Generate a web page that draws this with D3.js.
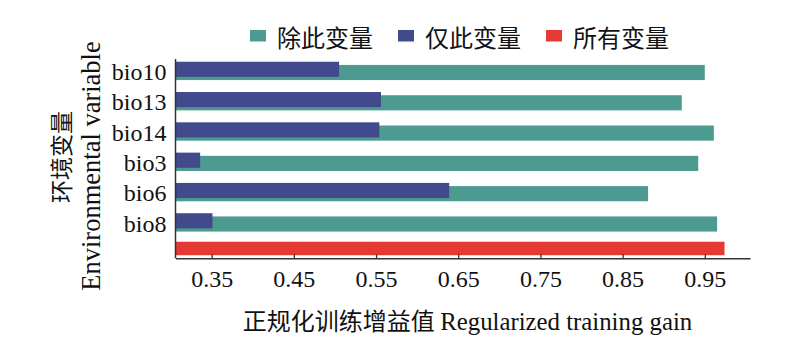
<!DOCTYPE html>
<html><head><meta charset="utf-8">
<script src="https://cdn.jsdelivr.net/npm/d3@7"></script>
<style>body{margin:0;background:#fff}svg{display:block}</style>
</head><body><svg id="c" width="800" height="357"></svg>
<script>
const categories = ["bio10","bio13","bio14","bio3","bio6","bio8"];
const withoutVar = [0.950, 0.922, 0.961, 0.942, 0.881, 0.965];
const onlyVar    = [0.505, 0.556, 0.554, 0.336, 0.639, 0.351];
const allVars    = [0.974];
const xTicks = [0.35, 0.45, 0.55, 0.65, 0.75, 0.85, 0.95];
const legendLabels = ["除此变量", "仅此变量", "所有变量"];
const colors = ["#4D9A90", "#414A8D", "#E53A33"];

const svg = d3.select("#c");
const serif = "'Liberation Serif','Times New Roman',serif";
const cjk = "'Noto Sans CJK SC','Noto Sans CJK JP',sans-serif";

const x = d3.scaleLinear().domain([0.306, 1.005]).range([175.5, 750]);
const rows = categories.concat(["all"]);
const y = d3.scaleBand().domain(rows).range([57.35, 269.45]).paddingInner(0.5).paddingOuter(0.25);
const axisY = 258.3;

// teal bars (without this variable)
svg.append("g").selectAll("rect").data(categories).join("rect")
  .attr("x", x.range()[0]).attr("y", d => y(d))
  .attr("width", (d,i) => x(withoutVar[i]) - x.range()[0])
  .attr("height", y.bandwidth())
  .attr("fill", colors[0]);
// purple bars (only this variable)
svg.append("g").selectAll("rect").data(categories).join("rect")
  .attr("x", x.range()[0]).attr("y", d => y(d) - 3.2)
  .attr("width", (d,i) => x(onlyVar[i]) - x.range()[0])
  .attr("height", y.bandwidth())
  .attr("fill", colors[1]);
// red bar (all variables)
svg.append("g").selectAll("rect").data(allVars).join("rect")
  .attr("x", x.range()[0]).attr("y", y("all") - 5)
  .attr("width", d => x(d) - x.range()[0])
  .attr("height", 13.5)
  .attr("fill", colors[2]);

// x axis
const xa = svg.append("g").attr("transform", `translate(0,${axisY})`)
  .call(d3.axisBottom(x).tickValues(xTicks).tickFormat(d3.format(".2f"))
    .tickSizeInner(-4).tickSizeOuter(0).tickPadding(12));
xa.select(".domain").attr("stroke", "#333").attr("stroke-width", 1.5);
xa.selectAll(".tick line").attr("stroke", "#333").attr("stroke-width", 1.3);
xa.selectAll("text").attr("font-family", serif).attr("font-size", 24).attr("fill", "#111");

// y axis
const ya = svg.append("g").attr("transform", `translate(${x.range()[0]},0)`)
  .call(d3.axisLeft(y).tickValues(categories).tickSize(0).tickPadding(9));
ya.select(".domain").remove();
ya.selectAll(".tick").attr("transform", d => `translate(0,${y(d) + y.bandwidth()/2})`);
ya.selectAll("text").attr("font-family", serif).attr("font-size", 24).attr("fill", "#111").attr("dy", "0.32em");
svg.append("line").attr("x1", x.range()[0]).attr("x2", x.range()[0])
  .attr("y1", 59).attr("y2", axisY).attr("stroke", "#333").attr("stroke-width", 1.5);

// legend
const lg = svg.append("g");
let lx = 250;
legendLabels.forEach((lab, i) => {
  lg.append("rect").attr("x", lx).attr("y", 30).attr("width", 16).attr("height", 11.5).attr("fill", colors[i]);
  const t = lg.append("text").attr("x", lx + 27).attr("y", 36).attr("dominant-baseline", "central")
    .attr("font-family", cjk).attr("font-size", 24).attr("fill", "#111").text(lab);
  lx += 27 + t.node().getComputedTextLength() + 25;
});

// y title
const yt = svg.append("g");
yt.append("text").attr("transform", "translate(60,157) rotate(-90)")
  .attr("text-anchor", "middle").attr("dominant-baseline", "central")
  .attr("font-family", cjk).attr("font-size", 23).attr("fill", "#111").text("环境变量");
yt.append("text").attr("transform", "translate(100,166) rotate(-90)")
  .attr("text-anchor", "middle")
  .attr("font-family", serif).attr("font-size", 26.5).attr("fill", "#111").text("Environmental variable");

// x title
const xt = svg.append("text").attr("x", 467.5).attr("y", 330).attr("text-anchor", "middle").attr("fill", "#111");
xt.append("tspan").attr("font-family", cjk).attr("font-size", 24).text("正规化训练增益值 ");
xt.append("tspan").attr("font-family", serif).attr("font-size", 24.8).text("Regularized training gain");
</script></body></html>
